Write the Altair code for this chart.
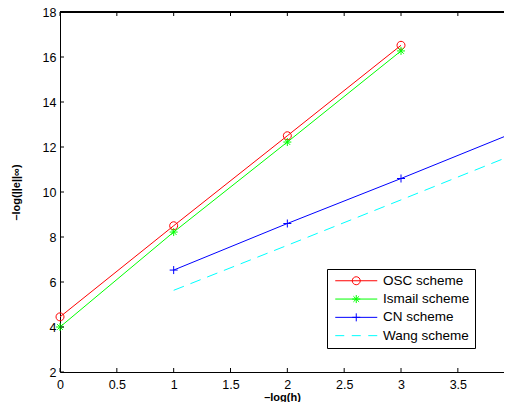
import altair as alt
import pandas as pd

# ---------------- data ----------------
schemes = ["OSC scheme", "Ismail scheme", "CN scheme", "Wang scheme"]
colors = ["#ff0000", "#00ff00", "#0000ff", "#00ffff"]

osc_x = [0, 1, 2, 3]
osc_y = [4.45, 8.5, 12.5, 16.52]
ismail_x = [0, 1, 2, 3]
ismail_y = [4.0, 8.22, 12.22, 16.27]
cn_x = [1, 2, 3, 4]
cn_y = [6.53, 8.6, 10.6, 12.65]
wang_x = [1, 2, 3, 4]
wang_y = [5.63, 7.63, 9.65, 11.68]

x_ticks = [0, 0.5, 1, 1.5, 2, 2.5, 3, 3.5]
y_ticks = [2, 4, 6, 8, 10, 12, 14, 16, 18]
x_min, x_view_max = 0, 3.906   # the reference is cropped just before x = 4
y_min, y_max = 2, 18

series = [(schemes[0], osc_x, osc_y), (schemes[1], ismail_x, ismail_y),
          (schemes[2], cn_x, cn_y), (schemes[3], wang_x, wang_y)]
df = pd.DataFrame([{"scheme": s, "x": a, "y": b} for s, xs_, ys_ in series
                   for a, b in zip(xs_, ys_)])

FONT = "Liberation Sans"

# ---------------- shapes ----------------
def circ(r):
    k = round(0.5523 * r, 4)
    return (f"M{r},0 C{r},{k} {k},{r} 0,{r} C{-k},{r} {-r},{k} {-r},0 "
            f"C{-r},{-k} {-k},{-r} 0,{-r} C{k},{-r} {r},{-k} {r},0 Z")

def plus(r):
    return f"M0,{-r} L0,{r} M{-r},0 L{r},0"

def star(r):
    d = round(r * 0.7071, 4)
    return plus(r) + f" M{-d},{-d} L{d},{d} M{-d},{d} L{d},{-d}"

# legend symbols: symbolSize 144 -> 6 px per path unit; line 42 px long, marker radius 4 px
L, mr = 3.5, 0.667
legend_paths = [
    f"M{-L},0 L{L},0 " + circ(mr),
    f"M{-L},0 L{L},0 " + star(mr),
    f"M{-L},0 L{L},0 " + plus(mr),
    "M-3.5,0 L-2,0 M-0.75,0 L0.75,0 M2,0 L3.5,0",
]
marker_shapes = [circ(1), star(1), plus(1)]

# ---------------- scales / axes ----------------
xs = alt.Scale(domain=[x_min, x_view_max], nice=False, zero=False)
ys = alt.Scale(domain=[y_min, y_max], nice=False, zero=False)
cscale = alt.Scale(domain=schemes, range=colors)

axis_common = dict(format="~g", ticks=False, grid=False, domainColor="black", domainWidth=1,
                   labelFont=FONT, labelFontSize=12.5, labelColor="black", labelFlush=False,
                   titleFont=FONT, titleFontSize=11, titleFontWeight="bold",
                   titleColor="black")
x_axis = alt.Axis(title="–log(h)", values=x_ticks, labelPadding=6.5, titlePadding=0,
                  **axis_common)
y_axis = alt.Axis(title="–log(||e||∞)", values=y_ticks, labelPadding=4, titlePadding=21,
                  **axis_common)

def X(field):
    return alt.X(field, scale=xs, axis=x_axis)

def Y(field):
    return alt.Y(field, scale=ys, axis=y_axis)

layers = []
# lines
for i, s in enumerate(schemes):
    extra = {"strokeDash": [11, 7]} if s == "Wang scheme" else {}
    layers.append(
        alt.Chart(df).transform_filter(alt.datum.scheme == s)
        .mark_line(strokeWidth=1, color=colors[i], **extra)
        .encode(x=X("x:Q"), y=Y("y:Q"))
    )
# markers
for i, s in enumerate(schemes[:3]):
    layers.append(
        alt.Chart(df).transform_filter(alt.datum.scheme == s)
        .mark_point(shape=marker_shapes[i], size=64, filled=False, opacity=1,
                    strokeWidth=1, color=colors[i])
        .encode(x=X("x:Q"), y=Y("y:Q"))
    )

# legend (scale-driven, no visible marks)
leg = alt.Legend(title=None, orient="none", legendX=267, legendY=257,
                 strokeColor="black", fillColor="white", padding=5, rowPadding=3.3,
                 labelFont=FONT, labelFontSize=13.5, labelColor="black",
                 symbolSize=144, symbolStrokeWidth=1, symbolOffset=17.5, labelOffset=20)
layers.append(
    alt.Chart(pd.DataFrame({"scheme": schemes})).transform_filter("false")
    .mark_point(filled=False, opacity=1, size=144, strokeWidth=1)
    .encode(color=alt.Color("scheme:N", scale=cscale, legend=leg),
            shape=alt.Shape("scheme:N", scale=alt.Scale(domain=schemes, range=legend_paths),
                            legend=leg))
)

# inward ticks and top border of the box
xt = pd.DataFrame({"t": x_ticks})
yt = pd.DataFrame({"t": y_ticks})
tick_style = dict(size=4, thickness=1, color="black", opacity=1)
layers += [
    alt.Chart(xt).mark_tick(orient="vertical", yOffset=-2, **tick_style).encode(
        x=X("t:Q"), y=alt.YDatum(y_min, scale=ys, axis=y_axis)),
    alt.Chart(xt).mark_tick(orient="vertical", yOffset=2, **tick_style).encode(
        x=X("t:Q"), y=alt.YDatum(y_max, scale=ys, axis=y_axis)),
    alt.Chart(yt).mark_tick(orient="horizontal", xOffset=2, **tick_style).encode(
        y=Y("t:Q"), x=alt.XDatum(x_min, scale=xs, axis=x_axis)),
    alt.Chart(xt).mark_rule(color="black", strokeWidth=1).encode(
        x=alt.XDatum(x_min, scale=xs, axis=x_axis), x2=alt.X2Datum(x_view_max),
        y=alt.YDatum(y_max, scale=ys, axis=y_axis)),
]

chart = alt.layer(*layers).properties(
    width=444, height=360,
    autosize=alt.AutoSizeParams(type="none"),
    padding={"left": 52, "top": 4, "right": 0, "bottom": 30},
    background="white",
).configure_view(stroke="transparent")

chart.save("out.html", embed_options={"renderer": "svg", "actions": False})
